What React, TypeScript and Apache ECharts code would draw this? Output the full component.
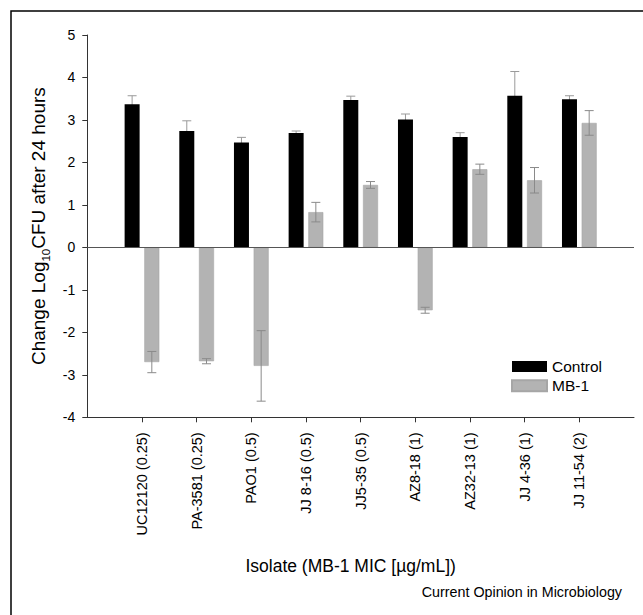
import React, { useEffect, useRef } from "react";
import * as echarts from "echarts";

const categories = [
  "UC12120 (0.25)",
  "PA-3581 (0.25)",
  "PAO1 (0.5)",
  "JJ 8-16 (0.5)",
  "JJ5-35 (0.5)",
  "AZ8-18 (1)",
  "AZ32-13 (1)",
  "JJ 4-36 (1)",
  "JJ 11-54 (2)",
];
const controlValues = [3.37, 2.74, 2.47, 2.69, 3.47, 3.01, 2.6, 3.57, 3.49];
const controlErrors = [0.2, 0.24, 0.12, 0.05, 0.09, 0.13, 0.1, 0.57, 0.08];
const mb1Values = [-2.7, -2.68, -2.79, 0.83, 1.47, -1.48, 1.84, 1.58, 2.93];
const mb1Errors = [0.25, 0.06, 0.83, 0.23, 0.08, 0.07, 0.12, 0.3, 0.29];
const yTicks = [-4, -3, -2, -1, 0, 1, 2, 3, 4, 5];

const FONT = '"Liberation Sans", Arial, Helvetica, sans-serif';
const BAR_W = 15;
const BAR_GAP = 4.7;

export default function App() {
  const ref = useRef<HTMLDivElement>(null);
  useEffect(() => {
    if (!ref.current) return;
    const chart = echarts.init(ref.current, null, { renderer: "svg" });
    const positions = categories.map((_, i) => i + 1);
    const shift = (BAR_W + BAR_GAP) / 2;

    const errSeries = (name: string, vals: number[], errs: number[], dir: number, z: number, color: string) => ({
      type: "custom",
      name: name + "-err",
      z,
      silent: true,
      data: positions.map((p, i) => [p, vals[i] - errs[i], vals[i] + errs[i]]),
      encode: { x: 0, y: [1, 2] },
      renderItem: (params: any, api: any) => {
        const x = api.value(0);
        const lo = api.coord([x, api.value(1)]);
        const hi = api.coord([x, api.value(2)]);
        const cx = lo[0] + dir * shift;
        const cap = 4.5;
        const style = { stroke: color, lineWidth: 1 };
        return {
          type: "group",
          children: [
            { type: "line", shape: { x1: cx, y1: lo[1], x2: cx, y2: hi[1] }, style },
            { type: "line", shape: { x1: cx - cap, y1: lo[1], x2: cx + cap, y2: lo[1] }, style },
            { type: "line", shape: { x1: cx - cap, y1: hi[1], x2: cx + cap, y2: hi[1] }, style },
          ],
        };
      },
    });

    chart.setOption({
      animation: false,
      textStyle: { fontFamily: FONT },
      grid: {
        left: 87.3,
        right: 9,
        top: 35,
        bottom: 197.7,
        containLabel: false,
        outerBoundsMode: "none",
      },
      legend: {
        data: ["Control", "MB-1"],
        orient: "vertical",
        left: 511,
        top: 358.5,
        padding: 0,
        itemWidth: 35,
        itemHeight: 11,
        itemGap: 3.3,
        icon: "rect",
        textStyle: { fontSize: 15.5, color: "#000", fontFamily: FONT },
      },
      xAxis: {
        type: "value",
        min: 0,
        max: 10,
        interval: 1,
        name: "Isolate (MB-1 MIC [µg/mL])",
        nameLocation: "middle",
        nameGap: 140,
        nameTextStyle: { fontSize: 17.5, color: "#000", fontFamily: FONT, padding: [0, 20, 0, 0] },
        axisLine: { show: true, onZero: false, lineStyle: { color: "#333", width: 1 } },
        axisTick: { show: true, customValues: positions, length: 5, lineStyle: { color: "#333" } },
        axisLabel: {
          customValues: positions,
          formatter: (v: number) => categories[Math.round(v) - 1] ?? "",
          rotate: 90,
          fontSize: 14.5,
          color: "#000",
          margin: 15,
          fontFamily: FONT,
        },
        splitLine: { show: false },
      },
      yAxis: {
        type: "value",
        min: -4,
        max: 5,
        interval: 1,
        name: "Change Log{sub|10}CFU after 24 hours",
        nameLocation: "middle",
        nameGap: 33,
        nameTextStyle: {
          fontSize: 19,
          color: "#000",
          lineHeight: 26,
          fontFamily: FONT,
          rich: { sub: { fontSize: 11.5, verticalAlign: "bottom", color: "#000", fontFamily: FONT } },
        },
        axisLine: { show: true, lineStyle: { color: "#333", width: 1 } },
        axisTick: { show: true, length: 5, lineStyle: { color: "#333" } },
        axisLabel: {
          fontSize: 14,
          color: "#000",
          margin: 12,
          fontFamily: FONT,
          customValues: yTicks,
        },
        splitLine: { show: false },
      },
      graphic: [
        {
          type: "polyline",
          shape: { points: [[11, 615], [11, 11], [643, 11]] },
          style: { stroke: "#000", lineWidth: 1.5, fill: "none" },
          silent: true,
        },
        {
          type: "text",
          right: 21,
          top: 585,
          style: { text: "Current Opinion in Microbiology", fontSize: 14.3, fill: "#000", fontFamily: FONT },
        },
      ],
      series: [
        errSeries("Control", controlValues, controlErrors, -1, 1, "#9a9a9a"),
        {
          type: "bar",
          name: "Control",
          z: 2,
          barWidth: BAR_W,
          barGap: (BAR_GAP / BAR_W) * 100 + "%",
          itemStyle: { color: "#000" },
          data: positions.map((p, i) => [p, controlValues[i]]),
          markLine: {
            silent: true,
            symbol: "none",
            label: { show: false },
            lineStyle: { color: "#555", width: 1, type: "solid" },
            data: [{ yAxis: 0 }],
          },
        },
        {
          type: "bar",
          name: "MB-1",
          z: 2,
          barWidth: BAR_W,
          barGap: (BAR_GAP / BAR_W) * 100 + "%",
          itemStyle: { color: "#b3b3b3", borderColor: "#a6a6a6", borderWidth: 0.6 },
          data: positions.map((p, i) => [p, mb1Values[i]]),
        },
        errSeries("MB-1", mb1Values, mb1Errors, 1, 3, "#8a8a8a"),
      ],
    });
    return () => chart.dispose();
  }, []);
  return (
    <div
      ref={ref}
      style={{ position: "absolute", left: 0, top: 0, width: 643, height: 615, background: "#fff" }}
    />
  );
}
